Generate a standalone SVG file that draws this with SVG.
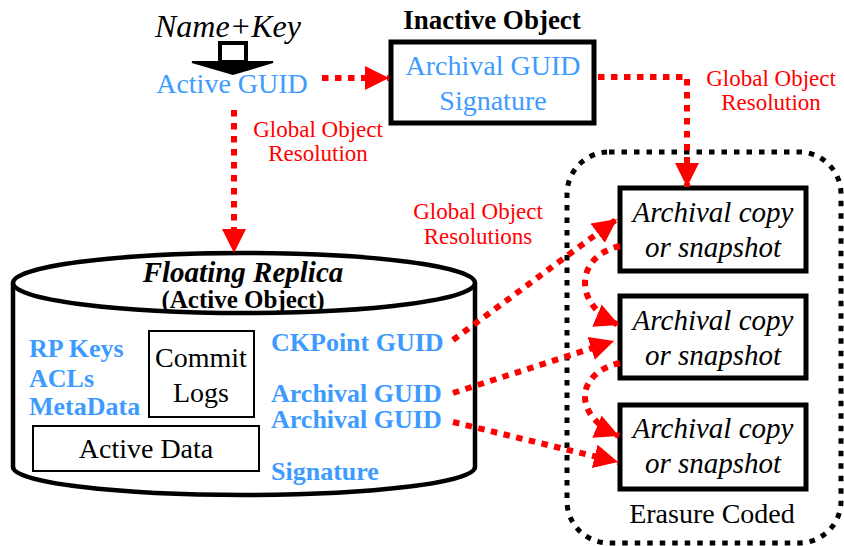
<svg xmlns="http://www.w3.org/2000/svg" width="844" height="546" viewBox="0 0 844 546">
<defs>
<marker id="ah" markerUnits="userSpaceOnUse" markerWidth="26" markerHeight="26" refX="24" refY="12" orient="auto" viewBox="0 0 26 26">
<path d="M0,0 L24,12 L0,24 z" fill="#ff0000"/>
</marker>
</defs>
<rect width="844" height="546" fill="#fff"/>

<g id="name-key">
<text style="font-family:'Liberation Serif',serif" font-family="Times New Roman" x="155" y="37" font-size="32" font-style="italic">Name+Key</text>
<polygon points="220,43 246,43 246,62 220,62" fill="#fff" stroke="#000" stroke-width="4"/>
<polygon points="192,62 273,62 233,74" fill="#000" stroke="#000" stroke-width="2"/>
</g>

<g id="active-guid">
<text style="font-family:'Liberation Serif',serif" font-family="Times New Roman" x="232" y="93" font-size="28" text-anchor="middle" fill="#3d9bff">Active GUID</text>
</g>

<g id="inactive-object">
<text style="font-family:'Liberation Serif',serif" font-family="Times New Roman" x="492" y="29" font-size="27" font-weight="bold" text-anchor="middle">Inactive Object</text>
<rect x="391" y="42" width="203" height="81" fill="#fff" stroke="#000" stroke-width="5"/>
<text style="font-family:'Liberation Serif',serif" font-family="Times New Roman" x="493" y="75" font-size="28" text-anchor="middle" fill="#3d9bff">Archival GUID</text>
<text style="font-family:'Liberation Serif',serif" font-family="Times New Roman" x="493" y="110" font-size="28" text-anchor="middle" fill="#3d9bff">Signature</text>
</g>

<g id="floating-replica">
<path d="M13,283 L13,467 A231,28 0 0 0 475,467 L475,283" fill="#fff" stroke="#000" stroke-width="4.5"/>
<ellipse cx="244" cy="283" rx="231" ry="30" fill="#fff" stroke="#000" stroke-width="4.5"/>
<text style="font-family:'Liberation Serif',serif" font-family="Times New Roman" x="243" y="282" font-size="29" font-weight="bold" font-style="italic" text-anchor="middle">Floating Replica</text>
<text style="font-family:'Liberation Serif',serif" font-family="Times New Roman" x="243" y="308" font-size="25" font-weight="bold" text-anchor="middle">(Active Object)</text>
<g font-weight="bold" font-size="26" fill="#3d9bff">
<text style="font-family:'Liberation Serif',serif" font-family="Times New Roman" x="29" y="357">RP Keys</text>
<text style="font-family:'Liberation Serif',serif" font-family="Times New Roman" x="29" y="387">ACLs</text>
<text style="font-family:'Liberation Serif',serif" font-family="Times New Roman" x="29" y="415">MetaData</text>
<text style="font-family:'Liberation Serif',serif" font-family="Times New Roman" x="271" y="351">CKPoint GUID</text>
<text style="font-family:'Liberation Serif',serif" font-family="Times New Roman" x="271" y="402">Archival GUID</text>
<text style="font-family:'Liberation Serif',serif" font-family="Times New Roman" x="271" y="428">Archival GUID</text>
<text style="font-family:'Liberation Serif',serif" font-family="Times New Roman" x="271" y="480">Signature</text>
</g>
<rect x="149" y="331" width="105" height="86" fill="#fff" stroke="#000" stroke-width="2"/>
<text style="font-family:'Liberation Serif',serif" font-family="Times New Roman" x="201" y="367" font-size="28" text-anchor="middle">Commit</text>
<text style="font-family:'Liberation Serif',serif" font-family="Times New Roman" x="201" y="402" font-size="28" text-anchor="middle">Logs</text>
<rect x="33" y="426" width="226" height="45" fill="#fff" stroke="#000" stroke-width="2"/>
<text style="font-family:'Liberation Serif',serif" font-family="Times New Roman" x="146" y="458" font-size="28" text-anchor="middle">Active Data</text>
</g>

<g id="erasure-coded">
<rect x="567" y="152" width="274" height="391" rx="42" ry="42" fill="none" stroke="#000" stroke-width="5" stroke-dasharray="5.5 7"/>
<text style="font-family:'Liberation Serif',serif" font-family="Times New Roman" x="712" y="523" font-size="28" text-anchor="middle">Erasure Coded</text>
</g>

<g id="archival-copies" font-style="italic" font-size="29" text-anchor="middle">
<g id="archival-copy-1">
<rect x="620" y="188" width="186" height="83" fill="#fff" stroke="#000" stroke-width="5"/>
<text style="font-family:'Liberation Serif',serif" font-family="Times New Roman" x="713" y="222">Archival copy</text>
<text style="font-family:'Liberation Serif',serif" font-family="Times New Roman" x="713" y="257">or snapshot</text>
</g>
<g id="archival-copy-2">
<rect x="620" y="296" width="186" height="82" fill="#fff" stroke="#000" stroke-width="5"/>
<text style="font-family:'Liberation Serif',serif" font-family="Times New Roman" x="713" y="330">Archival copy</text>
<text style="font-family:'Liberation Serif',serif" font-family="Times New Roman" x="713" y="365">or snapshot</text>
</g>
<g id="archival-copy-3">
<rect x="620" y="405" width="186" height="84" fill="#fff" stroke="#000" stroke-width="5"/>
<text style="font-family:'Liberation Serif',serif" font-family="Times New Roman" x="713" y="438">Archival copy</text>
<text style="font-family:'Liberation Serif',serif" font-family="Times New Roman" x="713" y="473">or snapshot</text>
</g>
</g>

<g id="connectors" fill="none" stroke="#ff0000" stroke-width="6" stroke-dasharray="6.5 6.5">
<path d="M322,78 L389,78" marker-end="url(#ah)"/>
<path d="M234,110 L234,253" marker-end="url(#ah)"/>
<path d="M598,77 L687,77 L687,187" marker-end="url(#ah)"/>
<path d="M453,340 L617,219" marker-end="url(#ah)"/>
<path d="M453,393 L614,341" marker-end="url(#ah)"/>
<path d="M453,422 L618,462" marker-end="url(#ah)"/>
<path d="M620,246 C575,256 572,305 619,325" marker-end="url(#ah)"/>
<path d="M620,363 C575,373 572,416 619,436" marker-end="url(#ah)"/>
</g>
<g id="connector-labels" fill="#ff0000" font-size="23" text-anchor="middle">
<text style="font-family:'Liberation Serif',serif" font-family="Times New Roman" x="318" y="137">Global Object</text>
<text style="font-family:'Liberation Serif',serif" font-family="Times New Roman" x="318" y="161">Resolution</text>
<text style="font-family:'Liberation Serif',serif" font-family="Times New Roman" x="771" y="86">Global Object</text>
<text style="font-family:'Liberation Serif',serif" font-family="Times New Roman" x="771" y="110">Resolution</text>
<text style="font-family:'Liberation Serif',serif" font-family="Times New Roman" x="478" y="219">Global Object</text>
<text style="font-family:'Liberation Serif',serif" font-family="Times New Roman" x="478" y="244">Resolutions</text>
</g>
</svg>
